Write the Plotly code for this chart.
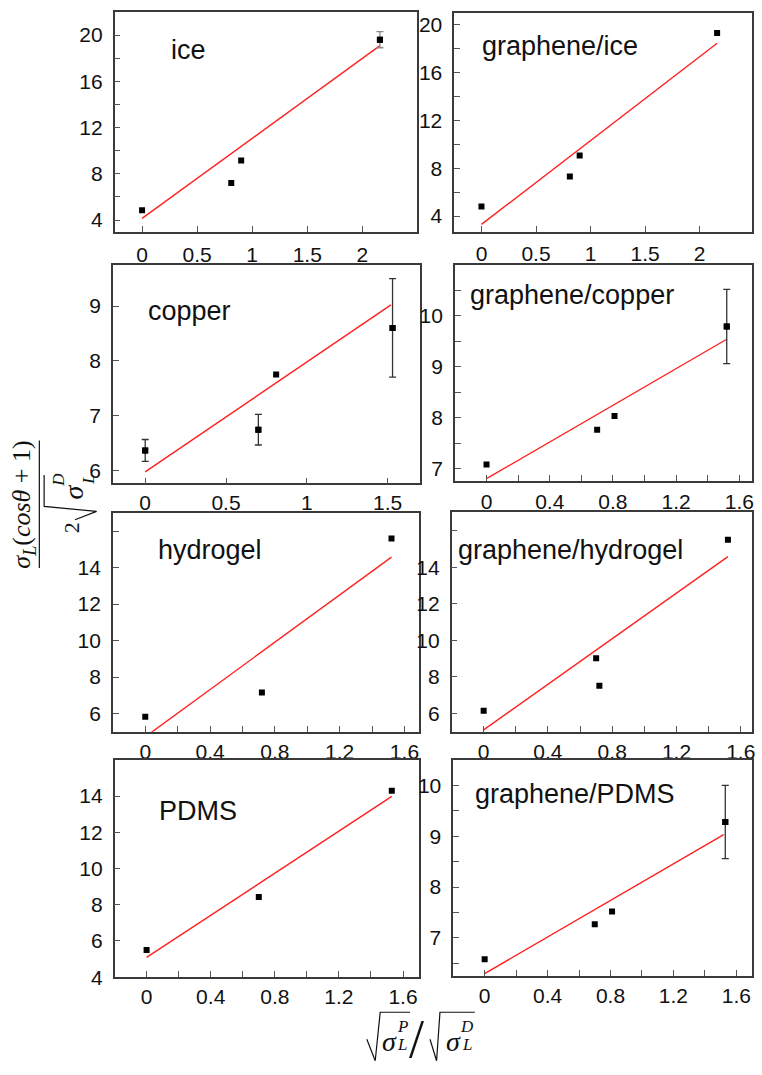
import plotly.graph_objects as go

W, H = 762, 1075

# ---------------- data ----------------
panel_names = ["ice", "graphene/ice", "copper", "graphene/copper",
               "hydrogel", "graphene/hydrogel", "PDMS", "graphene/PDMS"]

ice_x = [0.0, 0.81, 0.90, 2.16]
ice_y = [4.85, 7.2, 9.15, 19.6]
ice_err = [0, 0, 0, 0.7]
ice_fit_x = [0.0, 2.16]
ice_fit_y = [4.14, 19.08]

gice_x = [0.0, 0.81, 0.90, 2.16]
gice_y = [4.8, 7.3, 9.06, 19.3]
gice_err = [0, 0, 0, 0]
gice_fit_x = [0.0, 2.16]
gice_fit_y = [3.3, 18.44]

copper_x = [0.0, 0.70, 0.81, 1.53]
copper_y = [6.36, 6.74, 7.75, 8.6]
copper_err = [0.2, 0.28, 0, 0.9]
copper_fit_x = [0.0, 1.52]
copper_fit_y = [5.97, 9.02]

gcopper_x = [0.0, 0.70, 0.81, 1.52]
gcopper_y = [7.08, 7.76, 8.03, 9.79]
gcopper_err = [0, 0, 0, 0.73]
gcopper_fit_x = [0.0, 1.52]
gcopper_fit_y = [6.8, 9.54]

hydrogel_x = [0.0, 0.72, 1.52]
hydrogel_y = [5.82, 7.15, 15.6]
hydrogel_err = [0, 0, 0]
hydrogel_fit_x = [0.0, 1.52]
hydrogel_fit_y = [4.72, 14.58]

ghydrogel_x = [0.0, 0.70, 0.72, 1.52]
ghydrogel_y = [6.15, 9.02, 7.52, 15.5]
ghydrogel_err = [0, 0, 0, 0]
ghydrogel_fit_x = [0.0, 1.52]
ghydrogel_fit_y = [5.1, 14.58]

pdms_x = [0.0, 0.70, 1.53]
pdms_y = [5.5, 8.43, 14.3]
pdms_err = [0, 0, 0]
pdms_fit_x = [0.0, 1.53]
pdms_fit_y = [5.09, 13.98]

gpdms_x = [0.0, 0.70, 0.81, 1.53]
gpdms_y = [6.58, 7.27, 7.52, 9.28]
gpdms_err = [0, 0, 0, 0.72]
gpdms_fit_x = [0.0, 1.52]
gpdms_fit_y = [6.3, 9.03]

# tick labels
xt_ice = [0, 0.5, 1, 1.5, 2]
xt_ice_text = ["0", "0.5", "1", "1.5", "2"]
xt_copper = [0, 0.5, 1, 1.5]
xt_copper_text = ["0", "0.5", "1", "1.5"]
xt_fine = [0, 0.4, 0.8, 1.2, 1.6]
xt_fine_text = ["0", "0.4", "0.8", "1.2", "1.6"]
xt_fine_minor = [0.2, 0.6, 1.0, 1.4]

yt_ice = [4, 8, 12, 16, 20]
yt_ice_text = ["4", "8", "12", "16", "20"]
yt_ice_minor = [6, 10, 14, 18]
yt_copper = [6, 7, 8, 9]
yt_copper_text = ["6", "7", "8", "9"]
yt_gcopper = [7, 8, 9, 10]
yt_gcopper_text = ["7", "8", "9", "10"]
yt_half_minor = [6.5, 7.5, 8.5, 9.5, 10.5]
yt_hydro = [6, 8, 10, 12, 14]
yt_hydro_text = ["6", "8", "10", "12", "14"]
yt_hydro_minor = [16]
yt_pdms = [4, 6, 8, 10, 12, 14]
yt_pdms_text = ["4", "6", "8", "10", "12", "14"]
yt_gpdms = [7, 8, 9, 10]
yt_gpdms_text = ["7", "8", "9", "10"]

# ---------------- layout description ----------------
# pixel boxes: (left, right, top, bottom)
boxes = [(115, 419, 12, 234), (456, 755, 12.7, 234),
         (113.3, 421.7, 267.7, 488.3), (456.7, 755, 267.7, 485.7),
         (113.3, 420.7, 518.3, 739.3), (453.3, 755, 517.7, 739.3),
         (115, 420.7, 767.7, 987.3), (455, 755, 767.7, 985.7)]

panels = [
    dict(x=ice_x, y=ice_y, e=ice_err, fx=ice_fit_x, fy=ice_fit_y,
         xr=[-0.25, 2.5], yr=[3, 22], xt=xt_ice, xtt=xt_ice_text, xm=[],
         yt=yt_ice, ytt=yt_ice_text, ym=yt_ice_minor, ecol="#8a8a8a",
         lab=(170, 51), xso=3),
    dict(x=gice_x, y=gice_y, e=gice_err, fx=gice_fit_x, fy=gice_fit_y,
         xr=[-0.25, 2.48], yr=[2.7, 21], xt=xt_ice, xtt=xt_ice_text, xm=[],
         yt=yt_ice, ytt=yt_ice_text, ym=yt_ice_minor, ecol="#444",
         lab=(482, 46), xso=2),
    dict(x=copper_x, y=copper_y, e=copper_err, fx=copper_fit_x, fy=copper_fit_y,
         xr=[-0.2, 1.7], yr=[5.76, 9.75], xt=xt_copper, xtt=xt_copper_text, xm=[],
         yt=yt_copper, ytt=yt_copper_text, ym=[], ecol="#333",
         lab=(147, 314), xso=0),
    dict(x=gcopper_x, y=gcopper_y, e=gcopper_err, fx=gcopper_fit_x, fy=gcopper_fit_y,
         xr=[-0.2, 1.68], yr=[6.76, 11], xt=xt_fine, xtt=xt_fine_text, xm=xt_fine_minor,
         yt=yt_gcopper, ytt=yt_gcopper_text, ym=yt_half_minor, ecol="#333",
         lab=(470, 298), xso=1),
    dict(x=hydrogel_x, y=hydrogel_y, e=hydrogel_err, fx=hydrogel_fit_x, fy=hydrogel_fit_y,
         xr=[-0.2, 1.69], yr=[5, 17], xt=xt_fine, xtt=xt_fine_text, xm=xt_fine_minor,
         yt=yt_hydro, ytt=yt_hydro_text, ym=yt_hydro_minor, ecol="#333",
         lab=(157, 556), xso=0),
    dict(x=ghydrogel_x, y=ghydrogel_y, e=ghydrogel_err, fx=ghydrogel_fit_x, fy=ghydrogel_fit_y,
         xr=[-0.2, 1.67], yr=[5, 17], xt=xt_fine, xtt=xt_fine_text, xm=xt_fine_minor,
         yt=yt_hydro, ytt=yt_hydro_text, ym=yt_hydro_minor, ecol="#333",
         lab=(458, 556), xso=0),
    dict(x=pdms_x, y=pdms_y, e=pdms_err, fx=pdms_fit_x, fy=pdms_fit_y,
         xr=[-0.2, 1.70], yr=[4, 16], xt=xt_fine, xtt=xt_fine_text, xm=xt_fine_minor,
         yt=yt_pdms, ytt=yt_pdms_text, ym=[], ecol="#333",
         lab=(158, 819), xso=0),
    dict(x=gpdms_x, y=gpdms_y, e=gpdms_err, fx=gpdms_fit_x, fy=gpdms_fit_y,
         xr=[-0.2, 1.7], yr=[6.26, 10.5], xt=xt_fine, xtt=xt_fine_text, xm=xt_fine_minor,
         yt=yt_gpdms, ytt=yt_gpdms_text, ym=yt_half_minor, ecol="#333",
         lab=(475, 802), xso=0),
]

TICKFONT = dict(family="Liberation Sans, Arial, sans-serif", size=21, color="#111")
LINECOL = "#3a3a3a"
TICKCOL = "#555"


def px(xp):
    return xp / W


def py(yp):
    return 1 - yp / H


fig = go.Figure()
layout = dict(width=W, height=H, margin=dict(l=0, r=0, t=0, b=0),
              paper_bgcolor="white", plot_bgcolor="white", showlegend=False)
annotations = []
shapes = []

for i, (p, b, name) in enumerate(zip(panels, boxes, panel_names)):
    n = i + 1
    xa = "x" if n == 1 else f"x{n}"
    ya = "y" if n == 1 else f"y{n}"
    # fit line
    fig.add_trace(go.Scatter(x=p["fx"], y=p["fy"], mode="lines",
                             line=dict(color="#ff2020", width=1.4),
                             xaxis=xa, yaxis=ya, hoverinfo="skip"))
    # error bars (only points that have one)
    ex = [xv for xv, ev in zip(p["x"], p["e"]) if ev > 0]
    ey = [yv for yv, ev in zip(p["y"], p["e"]) if ev > 0]
    ee = [ev for ev in p["e"] if ev > 0]
    if ex:
        fig.add_trace(go.Scatter(x=ex, y=ey, mode="markers",
                                 marker=dict(symbol="square", size=6, color="black"),
                                 error_y=dict(type="data", array=ee, visible=True,
                                              color=p["ecol"], thickness=1.3, width=3.5),
                                 xaxis=xa, yaxis=ya))
    # data points
    fig.add_trace(go.Scatter(x=p["x"], y=p["y"], mode="markers",
                             marker=dict(symbol="square", size=6, color="black"),
                             xaxis=xa, yaxis=ya))

    l, r, t, bt = b
    xkey = "xaxis" if n == 1 else f"xaxis{n}"
    ykey = "yaxis" if n == 1 else f"yaxis{n}"
    xdict = dict(domain=[px(l), px(r)], anchor=ya, range=p["xr"],
                 tickmode="array", tickvals=p["xt"], ticktext=p["xtt"],
                 ticks="inside", ticklen=6, tickwidth=1.2, tickcolor=TICKCOL,
                 showline=True, linecolor=LINECOL, linewidth=1.5, mirror=True,
                 showgrid=False, zeroline=False, tickfont=TICKFONT,
                 ticklabelstandoff=p["xso"])
    ydict = dict(domain=[py(bt), py(t)], anchor=xa, range=p["yr"],
                 tickmode="array", tickvals=p["yt"], ticktext=p["ytt"],
                 ticks="inside", ticklen=6, tickwidth=1.2, tickcolor=TICKCOL,
                 showline=True, linecolor=LINECOL, linewidth=1.5, mirror=True,
                 showgrid=False, zeroline=False, tickfont=TICKFONT,
                 ticklabelstandoff=6)
    if p["xm"]:
        xdict["minor"] = dict(tickmode="array", tickvals=p["xm"], ticks="inside",
                              ticklen=6, tickwidth=1.2, tickcolor=TICKCOL)
    if p["ym"]:
        ydict["minor"] = dict(tickmode="array", tickvals=p["ym"], ticks="inside",
                              ticklen=6, tickwidth=1.2, tickcolor=TICKCOL)
    layout[xkey] = xdict
    layout[ykey] = ydict

    annotations.append(dict(text=name, x=px(p["lab"][0]), y=py(p["lab"][1]),
                            xref="paper", yref="paper", xanchor="left", yanchor="middle",
                            showarrow=False,
                            font=dict(family="Liberation Sans, Arial, sans-serif",
                                      size=27, color="#111")))

SERIF = "Liberation Serif, Times New Roman, serif"


def txt(s, xp, yp, size, angle=0):
    annotations.append(dict(text=s, x=px(xp), y=py(yp), xref="paper", yref="paper",
                            xanchor="center", yanchor="middle", showarrow=False,
                            textangle=angle,
                            font=dict(family=SERIF, size=size, color="#111")))


def path(pts, width=1.3):
    d = "M " + " L ".join(f"{px(a):.5f},{py(c):.5f}" for a, c in pts)
    shapes.append(dict(type="path", path=d, xref="paper", yref="paper",
                       line=dict(color="#111", width=width)))


# ---- y axis title: sigma_L(cos theta + 1) / (2 sqrt(sigma_L^D)) ----
txt("<i>σ</i><sub><i>L</i></sub>(<i>cosθ</i> + 1)", 23, 510, 26, -90)
path([(39.5, 445), (39.5, 574)], 1.2)
txt("2", 72, 533, 22, -90)
path([(75.3, 525.1), (97, 516.7), (44.3, 511.7), (44.3, 480)], 1.2)
txt("<i>σ</i>", 74, 497, 28, -90)
txt("<i>D</i>", 58, 485, 17, -90)
txt("<i>L</i>", 88, 485, 17, -90)

# ---- x axis title: sqrt(sigma_L^P) / sqrt(sigma_L^D) ----
path([(368.3, 1050), (376.7, 1071.7), (381.7, 1022.7), (411.7, 1022.7)], 1.2)
txt("<i>σ</i>", 391, 1052, 28)
txt("<i>P</i>", 404, 1037, 17)
txt("<i>L</i>", 404, 1055, 17)
txt("/", 418, 1050, 54)
path([(431.7, 1050), (438.3, 1071.7), (441.7, 1022.7), (476.7, 1022.7)], 1.2)
txt("<i>σ</i>", 455, 1052, 28)
txt("<i>D</i>", 469, 1037, 17)
txt("<i>L</i>", 469, 1055, 17)

layout["annotations"] = annotations
layout["shapes"] = shapes
fig.update_layout(**layout)
fig.write_html("out.html")
